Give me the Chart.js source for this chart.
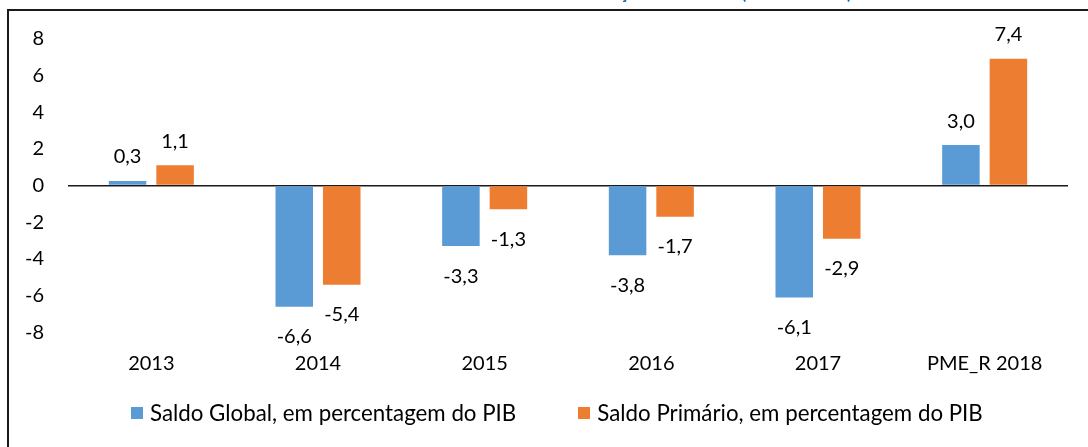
<!DOCTYPE html>
<html>
<head>
<meta charset="utf-8">
<script src="https://cdn.jsdelivr.net/npm/chart.js@4"></script>
<style>
    html, body { margin: 0; padding: 0; background: #fff; overflow: hidden; }
    #frame { position: absolute; left: 7px; top: 9px; width: 1200px; height: 600px;
             border-left: 2px solid #1a1a1a; border-top: 2px solid #1a1a1a; }
    #wrap { position: absolute; left: 0; top: 0; width: 1088px; height: 447px; }
    #legend { position: absolute; left: 131px; top: 399px; display: flex; align-items: center;
              font-family: Lato, "Open Sans", sans-serif; font-size: 22.3px; color: #000; white-space: nowrap; }
    .item { display: flex; align-items: center; margin-right: 62px; }
    .box { width: 12px; height: 12px; margin-right: 7px; }
</style>
</head>
<body>
<div id="frame"></div>
<div id="wrap"><canvas id="saldoChart"></canvas></div>
<div id="legend"></div>
<script>
    // Data
    const categories = ['2013', '2014', '2015', '2016', '2017', 'PME_R 2018'];
    const saldoGlobal = [0.25, -6.6, -3.3, -3.8, -6.1, 2.2];
    const saldoPrimario = [1.1, -5.4, -1.3, -1.7, -2.9, 6.9];
    // labels printed on the bars (as shown, not always equal to bar height)
    const globalLabels = ['0,3', '-6,6', '-3,3', '-3,8', '-6,1', '3,0'];
    const primarioLabels = ['1,1', '-5,4', '-1,3', '-1,7', '-2,9', '7,4'];
    const yTicks = [8, 6, 4, 2, 0, -2, -4, -6, -8];
    const titleText = 'Evolução dos Saldos (em % do PIB)';

    const FONT = 'Lato, "Open Sans", sans-serif';
    const FONT_SIZE = 20;

    // Draws the value labels outside each bar end
    const barLabels = {
        id: 'barLabels',
        afterDatasetsDraw(chart) {
            const ctx = chart.ctx;
            const texts = [globalLabels, primarioLabels];
            ctx.save();
            ctx.font = FONT_SIZE + 'px ' + FONT;
            ctx.fillStyle = '#000';
            ctx.textAlign = 'center';
            ctx.textBaseline = 'middle';
            chart.data.datasets.forEach((ds, i) => {
                chart.getDatasetMeta(i).data.forEach((bar, j) => {
                    const v = ds.data[j];
                    const y = v >= 0 ? bar.y - 24 : bar.y + 30;
                    ctx.fillText(texts[i][j], bar.x, y);
                });
            });
            ctx.restore();
        }
    };

    // Title, cut off at the top of the picture
    const cutTitle = {
        id: 'cutTitle',
        afterDraw(chart) {
            const ctx = chart.ctx;
            ctx.save();
            ctx.font = 'bold 18px ' + FONT;
            ctx.fillStyle = '#0070C0';
            ctx.textAlign = 'right';
            ctx.textBaseline = 'alphabetic';
            ctx.fillText(titleText, 852, -1);
            ctx.restore();
        }
    };

    const ctx = document.getElementById('saldoChart').getContext('2d');
    const chart = new Chart(ctx, {
        type: 'bar',
        data: {
            labels: categories,
            datasets: [{
                label: 'Saldo Global, em percentagem do PIB',
                data: saldoGlobal,
                backgroundColor: '#5B9BD5'
            }, {
                label: 'Saldo Primário, em percentagem do PIB',
                data: saldoPrimario,
                backgroundColor: '#ED7D31'
            }]
        },
        options: {
            responsive: true,
            maintainAspectRatio: false,
            animation: false,
            categoryPercentage: 0.57,
            barPercentage: 0.79,
            layout: { padding: { top: 38.6, right: 20, left: 0, bottom: 52.6 } },
            plugins: {
                legend: { display: false },
                tooltip: { enabled: false }
            },
            scales: {
                x: {
                    grid: { display: false, drawTicks: false },
                    border: { display: false },
                    ticks: { font: { family: FONT, size: FONT_SIZE }, color: '#000', padding: 19 }
                },
                y: {
                    min: -8,
                    max: 8,
                    afterFit: scale => { scale.width = 68; },
                    afterBuildTicks: scale => { scale.ticks = yTicks.map(v => ({ value: v })); },
                    border: { display: false },
                    grid: {
                        drawTicks: false,
                        color: c => c.tick && c.tick.value === 0 ? '#1a1a1a' : 'transparent',
                        lineWidth: 1.5
                    },
                    ticks: { font: { family: FONT, size: FONT_SIZE }, color: '#000', padding: 24 }
                }
            }
        },
        plugins: [barLabels, cutTitle]
    });

    // HTML legend built from the datasets
    const legendEl = document.getElementById('legend');
    chart.data.datasets.forEach(ds => {
        const item = document.createElement('div');
        item.className = 'item';
        item.innerHTML = `<span class="box" style="background:${ds.backgroundColor}"></span><span>${ds.label}</span>`;
        legendEl.appendChild(item);
    });
</script>
</body>
</html>
